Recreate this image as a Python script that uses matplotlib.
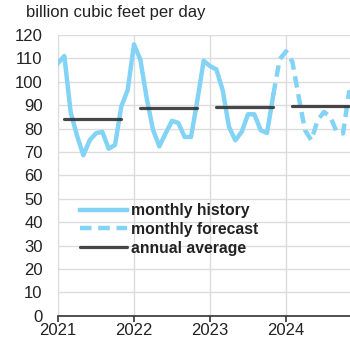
import matplotlib
matplotlib.use("Agg")
import matplotlib.pyplot as plt
import numpy as np

plt.rcParams['font.family'] = ['Liberation Sans', 'DejaVu Sans']

# Monthly history Jan 2021 - Nov 2023 (bcf/d)
history = [108, 111, 87, 77, 68.6, 75, 78, 78.6, 71.4, 73, 89.5, 96.5,
           116, 109.5, 93, 79.5, 72.4, 78, 83.3, 82.4, 76.4, 76.4, 92, 109,
           106.7, 105.3, 96.4, 80.7, 75, 78.6, 86.1, 86.1, 79.3, 78.1, 94.5]
# Monthly forecast Nov 2023 - Nov 2024
forecast = [94.5, 109.6, 113, 108.6, 93.6, 79.3, 75, 83.6, 87.1, 85, 78.6, 77.9, 96.4]
years = [2021, 2022, 2023, 2024]
annual_avg = [84.1, 88.6, 89.4, 89.6]
xticks = [2021, 2022, 2023, 2024]
yticks = list(range(0, 121, 10))

blue = '#82D3F5'
dark = '#333333'

fig = plt.figure(figsize=(3.5, 3.43), dpi=100)
ax = fig.add_axes([58/350, 1-315.7/343, 1-58/350, (315.7-35)/343])

hx = 2021 + np.arange(len(history)) / 12
fx = 2021 + (len(history) - 1 + np.arange(len(forecast))) / 12

ax.plot(hx, history, color=blue, lw=3.2, label='monthly history', zorder=3)
ax.plot(fx, forecast, color=blue, lw=3.2, dashes=(2.6, 1.5), label='monthly forecast', zorder=3)
for i, (yr, v) in enumerate(zip(years, annual_avg)):
    ax.plot([yr + 1/12, yr + 10/12], [v, v], color=dark, lw=2.3, alpha=0.9,
            solid_capstyle='round', zorder=4, label='annual average' if i == 0 else None)

ax.set_xlim(2021, 2024.842)
ax.set_ylim(0, 120)
ax.set_xticks(xticks)
ax.set_xticklabels([str(t) for t in xticks])
ax.set_yticks(yticks)
ax.grid(True, color='#dcdcdc', lw=1.0, zorder=0)
ax.set_axisbelow(True)
for s in ['top', 'right']:
    ax.spines[s].set_visible(False)
ax.spines['left'].set_color('#dcdcdc')
ax.spines['bottom'].set_color('#333333')
ax.spines['bottom'].set_linewidth(1.2)
ax.tick_params(axis='y', length=0, labelsize=12, colors='#222222', pad=11)
ax.tick_params(axis='x', length=4, width=1.2, color='#333333', labelsize=12,
               labelcolor='#222222', pad=1)

fig.text(26/350, 1-12/343, 'billion cubic feet per day', fontsize=12, color='#222222',
         va='center', ha='left')

leg = ax.legend(loc='upper left', bbox_to_anchor=(80/350, 1-203/343),
                bbox_transform=fig.transFigure, frameon=False, borderpad=0,
                borderaxespad=0, handlelength=3.0, handletextpad=0.25,
                labelspacing=0.24, prop={'weight': 'bold', 'size': 11.3})
for t in leg.get_texts():
    t.set_color('#222222')

fig.savefig('out.png', dpi=100)
